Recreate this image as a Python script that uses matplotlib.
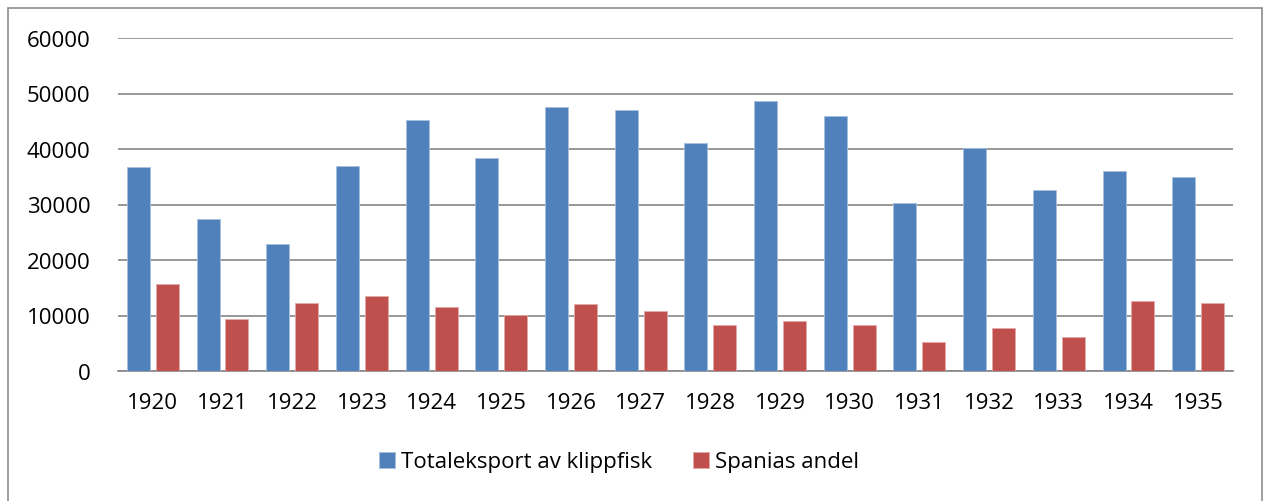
import numpy as np
import matplotlib.pyplot as plt
from matplotlib.patches import Rectangle

# data
years = ['1920', '1921', '1922', '1923', '1924', '1925', '1926', '1927',
         '1928', '1929', '1930', '1931', '1932', '1933', '1934', '1935']
totaleksport = [36800, 27300, 22800, 36900, 45200, 38300, 47600, 47000,
                41000, 48600, 46000, 30300, 40200, 32700, 36100, 35000]
spania = [15600, 9400, 12300, 13500, 11500, 10150, 12000, 10900,
          8300, 8950, 8300, 5150, 7750, 6150, 12700, 12200]

plt.rcParams['font.family'] = ['Open Sans', 'DejaVu Sans']

W, H = 1263, 502
fig = plt.figure(figsize=(W / 100, H / 100), dpi=100)

# outer frame of the chart
fig.patches.append(Rectangle((8 / W, -0.05), (1262 - 8) / W, 1.05 - 9 / H,
                             transform=fig.transFigure, fill=False,
                             edgecolor='#8c8c8c', linewidth=1.2))

ax = fig.add_axes([118 / W, 1 - 372 / H, (1233 - 118) / W, (372 - 39) / H])

x = np.arange(len(years))
w = 0.33
off = 0.207
ax.bar(x - off, totaleksport, w, color='#4f81bd', edgecolor='#a7c0de',
       linewidth=0.6, label='Totaleksport av klippfisk', zorder=3)
ax.bar(x + off, spania, w, color='#c0504d', edgecolor='#e3a9a7',
       linewidth=0.6, label='Spanias andel', zorder=3)

ax.set_xlim(-0.5, len(years) - 0.5)
ax.set_ylim(0, 60000)
ax.set_yticks(range(0, 60001, 10000))
ax.set_xticks(x)
ax.set_xticklabels(years)
ax.grid(axis='y', color='#868686', linewidth=1.2, zorder=0)
for s in ['top', 'right', 'left']:
    ax.spines[s].set_visible(False)
ax.spines['bottom'].set_color('#868686')
ax.spines['bottom'].set_linewidth(1.2)
ax.tick_params(axis='both', length=0, labelsize=16, colors='black')
ax.tick_params(axis='y', pad=20)
ax.tick_params(axis='x', pad=15)

fig.legend(loc='center', bbox_to_anchor=(619 / W, 1 - 463 / H), ncol=2,
           frameon=False, fontsize=16, handlelength=0.72, handleheight=0.72,
           handletextpad=0.3, columnspacing=1.8)

plt.savefig('out.png', dpi=100)
